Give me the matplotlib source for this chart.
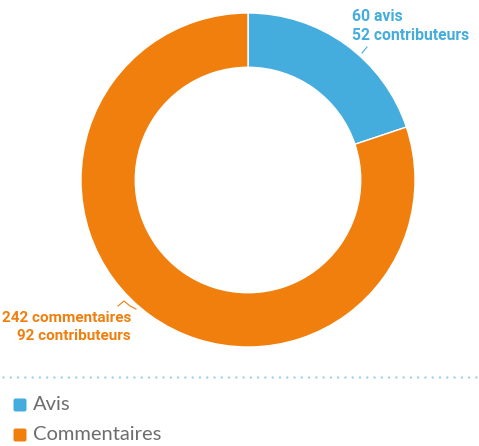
import matplotlib.pyplot as plt
from matplotlib.lines import Line2D
from matplotlib.patches import FancyBboxPatch

#####################################################
# DATA
#####################################################

categories = ["Avis", "Commentaires"]
counts = [60, 242]
contributors = [52, 92]
unit_labels = ["avis", "commentaires"]
colors = ["#45addd", "#f07f0e"]

W, H = 479, 446

#####################################################
# FIGURE
#####################################################

fig = plt.figure(figsize=(W / 100, H / 100), dpi=100)
ax = fig.add_axes([0, 0, 1, 1])

cx, cy, r = 248, H - 180, 167
ax.pie(
    counts,
    colors=colors,
    startangle=90,
    counterclock=False,
    center=(cx, cy),
    radius=r,
    frame=True,
    wedgeprops=dict(width=r * 0.325, edgecolor="white", linewidth=1),
)
ax.set_xlim(0, W)
ax.set_ylim(0, H)
ax.set_aspect("equal")
ax.axis("off")

label_font = ["Roboto", "DejaVu Sans"]

# labels
ax.text(
    352, H - 26,
    f"{counts[0]} {unit_labels[0]}\n{contributors[0]} contributeurs",
    color=colors[0], fontsize=11.3, fontweight="bold", family=label_font,
    ha="left", va="center", linespacing=1.3,
)
ax.add_line(Line2D([362, 367], [H - 53, H - 47], color=colors[0], lw=0.8))

ax.text(
    131, H - 327,
    f"{counts[1]} {unit_labels[1]}\n{contributors[1]} contributeurs",
    color=colors[1], fontsize=11, fontweight="bold", family=label_font,
    ha="right", va="center", linespacing=1.3,
)
ax.add_line(Line2D([118, 124, 130, 136], [H - 306, H - 301, H - 306, H - 309],
                   color=colors[1], lw=0.8))

# dotted separator
ax.add_line(Line2D([3, W], [H - 377, H - 377], color="#9dd3ee", lw=1.8,
                   linestyle=(0, (0.01, 2.9)), dash_capstyle="round"))

# legend
for i, cat in enumerate(categories):
    y = H - 405 - i * 30
    ax.add_patch(FancyBboxPatch((13.5, y - 6.5), 13, 13,
                                boxstyle="round,pad=0,rounding_size=2",
                                facecolor=colors[i], edgecolor="none"))
    ax.text(33, y, cat, color="#6d6d6d", fontsize=14.5, family="Lato",
            ha="left", va="center")

fig.savefig("out.png", dpi=100)
plt.close()
